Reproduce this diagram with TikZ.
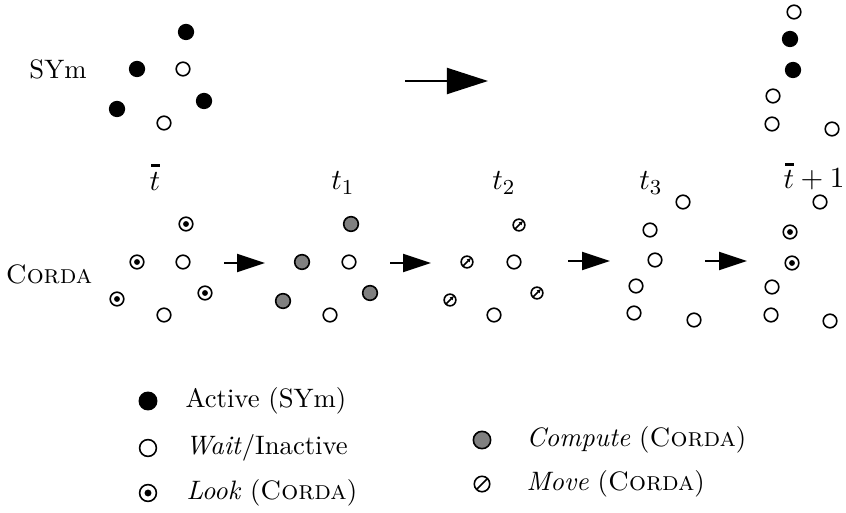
\documentclass[tikz,border=0pt]{standalone}
\usetikzlibrary{arrows.meta}
\newcommand{\tbarsym}{\mathord{\stackrel{\kern0.6pt\rule{3.4pt}{0.9pt}}{t}}}
\begin{document}
\begin{tikzpicture}[x=0.375pt,y=-0.375pt,
  dot/.style={circle, draw, inner sep=0pt, line width=0.6pt},
  act/.style={dot, fill=black, minimum size=5.5pt},
  wt/.style={dot, fill=white, minimum size=5.1pt},
  cmp/.style={dot, fill=gray, minimum size=5.5pt},
  lk/.style={dot, minimum size=5.1pt, path picture={\fill (path picture bounding box.center) circle (1.1pt);}},
  mv/.style={dot, minimum size=4.4pt, path picture={\draw[line width=0.55pt,-{Latex[length=1.6pt,width=1.6pt]}] ([shift={(225:2.2pt)}]path picture bounding box.center) -- ([shift={(45:2.2pt)}]path picture bounding box.center);}},
  big/.style={line width=0.75pt, -{Triangle[length=15.4pt,width=9.75pt]}},
  small/.style={line width=0.75pt, -{Triangle[length=10.5pt,width=6.75pt]}},
  lab/.style={inner sep=0pt, font=\normalsize},
  tlab/.style={inner sep=0pt, font=\fontsize{11}{13}\selectfont},
  leg/.style={inner sep=0pt, anchor=west}
]
\useasboundingbox (0,0) rectangle (846,512);
% labels
\node[lab] (lsym) at (58,69) {SYm};
\node[lab] (lcor) at (49,274) {\textsc{Corda}};
\node[tlab] (l0) at (155,176) {$\tbarsym$};
\node[tlab] (l1) at (343,183) {$t_1$};
\node[tlab] (l2) at (504,183) {$t_2$};
\node[tlab] (l3) at (651,183) {$t_3$};
\node[tlab] (l4) at (814,175) {$\tbarsym+1$};
% SYm left
\node[act] (a1) at (186,32) {};
\node[act] (a2) at (137,69) {};
\node[wt]  (a3) at (183,69) {};
\node[act] (a4) at (117,109) {};
\node[act] (a5) at (204,101) {};
\node[wt]  (a6) at (164,123) {};
% SYm right
\node[wt]  (b1) at (794,12) {};
\node[act] (b2) at (790,39) {};
\node[act] (b3) at (793,70) {};
\node[wt]  (b4) at (773,96) {};
\node[wt]  (b5) at (772,124) {};
\node[wt]  (b6) at (832,129) {};
% top arrow
\coordinate (ta) at (405,81);
\coordinate (tb) at (488,81);
\draw[big] (ta) -- (tb);
% CORDA group 0
\node[lk] (c01) at (186,224) {};
\node[lk] (c02) at (137,262) {};
\node[wt] (c03) at (183,262) {};
\node[lk] (c04) at (117,299) {};
\node[lk] (c05) at (205,293) {};
\node[wt] (c06) at (164,315) {};
% group 1
\node[cmp] (c11) at (351,224) {};
\node[cmp] (c12) at (302,262) {};
\node[wt]  (c13) at (349,262) {};
\node[cmp] (c14) at (283,301) {};
\node[cmp] (c15) at (370,293) {};
\node[wt]  (c16) at (330,315) {};
% group 2
\node[mv] (c21) at (519,225) {};
\node[mv] (c22) at (467,262) {};
\node[wt] (c23) at (514,262) {};
\node[mv] (c24) at (450,300) {};
\node[mv] (c25) at (537,293) {};
\node[wt] (c26) at (494,315) {};
% group 3
\node[wt] (c31) at (683,202) {};
\node[wt] (c32) at (650,230) {};
\node[wt] (c33) at (655,260) {};
\node[wt] (c34) at (636,286) {};
\node[wt] (c35) at (634,313) {};
\node[wt] (c36) at (694,320) {};
% group 4
\node[wt] (c41) at (820,202) {};
\node[lk] (c42) at (790,232) {};
\node[lk] (c43) at (792,263) {};
\node[wt] (c44) at (772,287) {};
\node[wt] (c45) at (771,315) {};
\node[wt] (c46) at (830,321) {};
% small arrows
\coordinate (s1a) at (224,263); \coordinate (s1b) at (265,263);
\coordinate (s2a) at (390,263); \coordinate (s2b) at (431,263);
\coordinate (s3a) at (568,261); \coordinate (s3b) at (610,261);
\coordinate (s4a) at (705,261); \coordinate (s4b) at (747,261);
\draw[small] (s1a) -- (s1b);
\draw[small] (s2a) -- (s2b);
\draw[small] (s3a) -- (s3b);
\draw[small] (s4a) -- (s4b);
% legend
\node[act, minimum size=6.5pt] (k1) at (148,401) {};
\node[wt, minimum size=6.3pt] (k2) at (148,448) {};
\node[dot, minimum size=6.3pt, path picture={\fill (path picture bounding box.center) circle (1.3pt);}] (k3) at (148,493) {};
\node[cmp, minimum size=6.5pt] (k4) at (482,440) {};
\node[dot, minimum size=5.8pt, path picture={\draw[line width=0.6pt] ([shift={(225:3pt)}]path picture bounding box.center) -- ([shift={(45:3pt)}]path picture bounding box.center);}] (k5) at (482,484) {};
\node[leg] (t1) at (185,401) {Active (SYm)};
\node[leg] (t2) at (185,448) {\textit{Wait}/Inactive};
\node[leg] (t3) at (186,493) {\textit{Look} (\textsc{Corda})};
\node[leg] (t4) at (526,440) {\textit{Compute} (\textsc{Corda})};
\node[leg] (t5) at (526,484) {\textit{Move} (\textsc{Corda})};
\end{tikzpicture}
\end{document}
